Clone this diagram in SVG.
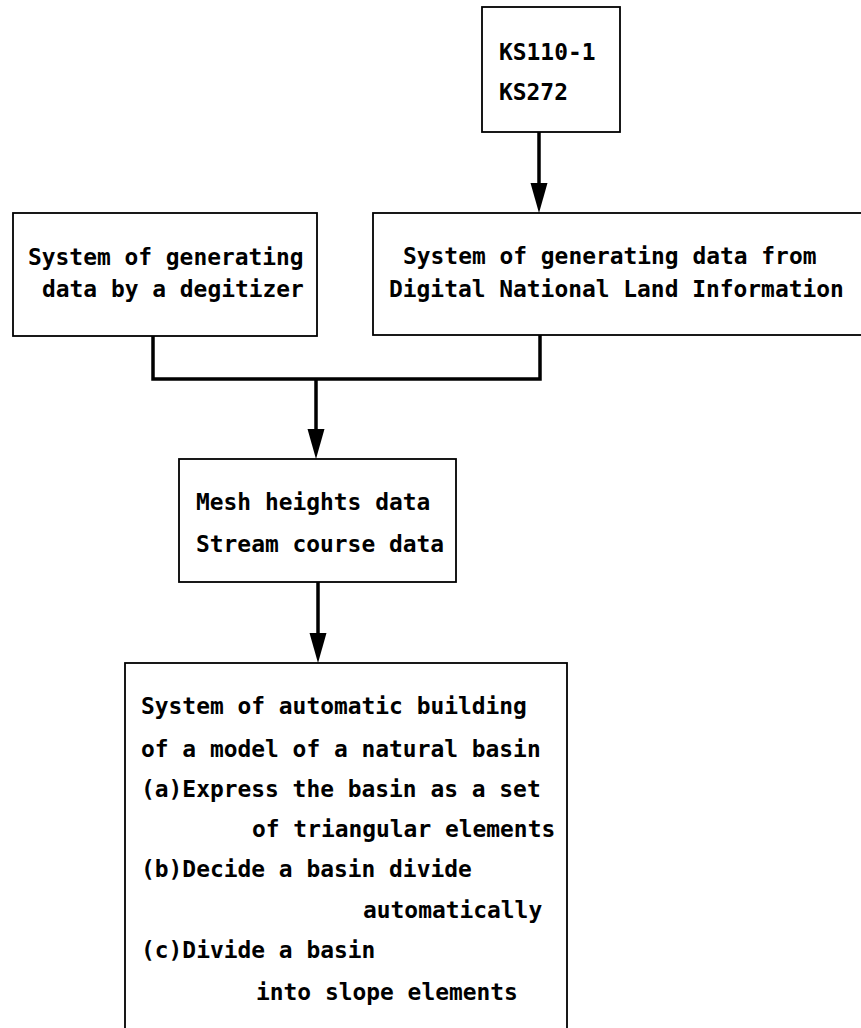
<svg xmlns="http://www.w3.org/2000/svg" width="861" height="1028" viewBox="0 0 861 1028">
<style>
.box{fill:#fff;stroke:#000;stroke-width:1.8}
.t{font-family:"DejaVu Sans Mono","Liberation Mono",monospace;font-size:22.9px;font-weight:bold;fill:#000}
.conn{fill:none;stroke:#000;stroke-width:3.5;stroke-linejoin:miter}
.head{fill:#000;stroke:none}
</style>
<rect width="861" height="1028" fill="#fff"/>
<g id="connectors">
<path class="conn" d="M539,132 V190"/>
<polygon class="head" points="530.5,183 547.5,183 539,213"/>
<path class="conn" d="M153,336 V379 H540 V335"/>
<path class="conn" d="M316,379 V436"/>
<polygon class="head" points="307.5,429 324.5,429 316,459"/>
<path class="conn" d="M318,582 V640"/>
<polygon class="head" points="309.5,633 326.5,633 318,663"/>
</g>
<g id="node-ks">
<rect class="box" x="482" y="7" width="138" height="125"/>
<text class="t" x="499" y="60">KS110-1</text>
<text class="t" x="499" y="100">KS272</text>
</g>
<g id="node-digitizer">
<rect class="box" x="13" y="213" width="304" height="123"/>
<text class="t" x="28" y="265" xml:space="preserve">System of generating</text>
<text class="t" x="42" y="297" xml:space="preserve">data by a degitizer</text>
</g>
<g id="node-dnli">
<rect class="box" x="373" y="213" width="500" height="122"/>
<text class="t" x="403" y="264" xml:space="preserve">System of generating data from</text>
<text class="t" x="389" y="297" xml:space="preserve">Digital National Land Information</text>
</g>
<g id="node-mesh">
<rect class="box" x="179" y="459" width="277" height="123"/>
<text class="t" x="196" y="510" xml:space="preserve">Mesh heights data</text>
<text class="t" x="196" y="552" xml:space="preserve">Stream course data</text>
</g>
<g id="node-model">
<rect class="box" x="125" y="663" width="442" height="380"/>
<text class="t" x="141" y="714" xml:space="preserve">System of automatic building</text>
<text class="t" x="141" y="757" xml:space="preserve">of a model of a natural basin</text>
<text class="t" x="141" y="797" xml:space="preserve">(a)Express the basin as a set</text>
<text class="t" x="252" y="837" xml:space="preserve">of triangular elements</text>
<text class="t" x="141" y="877" xml:space="preserve">(b)Decide a basin divide</text>
<text class="t" x="363" y="918" xml:space="preserve">automatically</text>
<text class="t" x="141" y="958" xml:space="preserve">(c)Divide a basin</text>
<text class="t" x="256" y="1000" xml:space="preserve">into slope elements</text>
</g>
</svg>
